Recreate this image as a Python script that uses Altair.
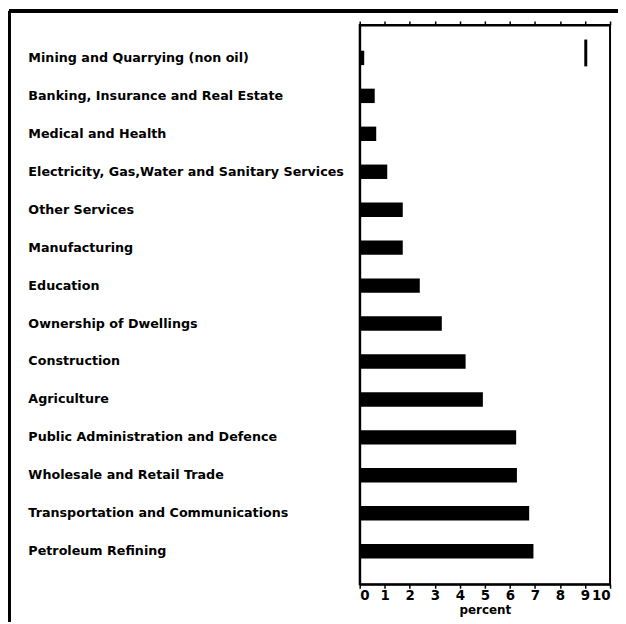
import altair as alt
import pandas as pd

sectors = [
    "Mining and Quarrying (non oil)",
    "Banking, Insurance and Real Estate",
    "Medical and Health",
    "Electricity, Gas,Water and Sanitary Services",
    "Other Services",
    "Manufacturing",
    "Education",
    "Ownership of Dwellings",
    "Construction",
    "Agriculture",
    "Public Administration and Defence",
    "Wholesale and Retail Trade",
    "Transportation and Communications",
    "Petroleum Refining",
]
percent = [0.18, 0.6, 0.66, 1.1, 1.72, 1.72, 2.4, 3.28, 4.23, 4.92, 6.25, 6.28, 6.77, 6.94]

marker_sector = ["Mining and Quarrying (non oil)"]
marker_value = [9.03]

df = pd.DataFrame({"sector": sectors, "percent": percent})
mk = pd.DataFrame({"sector": marker_sector, "percent": marker_value})

W, H = 252, 563
PL, PT, PR, PB = 354, 15, 8, 38
FONT = "DejaVu Sans"

yscale = alt.Scale(domain=sectors, paddingInner=0.62, paddingOuter=0.68)
xscale = alt.Scale(domain=[0, 10], nice=False, zero=True)

yaxis = alt.Axis(title=None, ticks=False, tickSize=0, domainColor="black",
                 domainWidth=2, labelAlign="left", labelPadding=334,
                 labelLimit=400, labelFont=FONT, labelFontSize=12.8,
                 labelFontWeight="bold", labelColor="black")

bars = alt.Chart(df).mark_bar(color="black").encode(
    x=alt.X("percent:Q", scale=xscale,
            axis=alt.Axis(orient="bottom", title="percent", values=list(range(11)),
                          format="d", tickSize=4, tickColor="black", tickWidth=1.5,
                          domainColor="black", domainWidth=2, grid=False,
                          labelFont=FONT, labelFontSize=13.5, labelFontWeight="bold",
                          labelColor="black", labelPadding=0,
                          titleFont=FONT, titleFontSize=12, titleFontWeight="bold",
                          titleColor="black", titlePadding=3)),
    y=alt.Y("sector:N", scale=yscale, sort=sectors, axis=yaxis),
)

top_axis = alt.Chart(df).mark_point(opacity=0).encode(
    x=alt.X("percent:Q", scale=xscale,
            axis=alt.Axis(orient="top", title=None, labels=False, values=list(range(11)),
                          tickSize=4, tickColor="black", tickWidth=1.5,
                          domainColor="black", domainWidth=2, grid=False)),
    y=alt.Y("sector:N", scale=yscale, sort=sectors, axis=yaxis),
)

marker = alt.Chart(mk).mark_tick(color="black", opacity=1, thickness=3, size=27, yOffset=-5).encode(
    x=alt.X("percent:Q", scale=xscale, axis=None),
    y=alt.Y("sector:N", scale=yscale, sort=sectors, axis=yaxis),
)

frame_left = alt.Chart(df).mark_rule(color="black", strokeWidth=2.5, clip=False).encode(
    x=alt.value(-PL + 1), y=alt.value(-PT + 1), y2=alt.value(H + PB),
)
frame_top = alt.Chart(df).mark_rule(color="black", strokeWidth=2.5, clip=False).encode(
    x=alt.value(-PL + 1), x2=alt.value(W + PR), y=alt.value(-PT + 1),
)

chart = alt.layer(bars, top_axis, marker, frame_left, frame_top).resolve_axis(
    x="independent"
).properties(
    width=W, height=H,
    autosize=alt.AutoSizeParams(type="none"),
    padding={"left": PL, "top": PT, "right": PR, "bottom": PB},
    background="white",
).configure_view(stroke="black", strokeWidth=2)

chart.save("out.html", embed_options={"renderer": "svg", "actions": False})
